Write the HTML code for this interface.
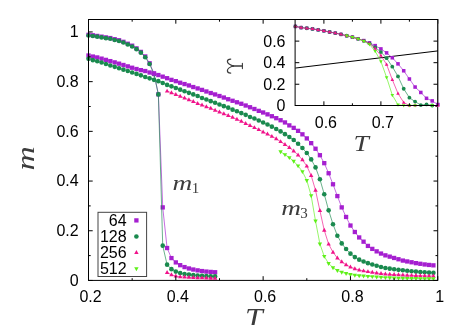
<!DOCTYPE html>
<html><head><meta charset="utf-8"><style>
html,body{margin:0;padding:0;background:#fff;}
#w{position:relative;width:463px;height:325px;overflow:hidden;background:#fff;font-family:"Liberation Sans",sans-serif;color:#000;}
</style></head><body><div id="w">
<svg width="463" height="325" viewBox="0 0 463 325" style="position:absolute;left:0;top:0">
<rect width="463" height="325" fill="#fff"/>
<polyline fill="none" stroke="#a51fd0" stroke-width="0.65" points="88.50,34.81 92.87,35.30 97.23,35.93 101.60,36.67 105.96,37.42 110.33,38.06 114.70,39.21 119.06,40.25 123.43,41.82 127.79,43.75 132.16,45.69 136.53,48.40 140.89,51.90 145.26,56.45 149.62,63.26 153.99,73.45 158.36,94.32 162.72,207.39 167.09,248.02 171.45,258.08 175.82,262.41 180.19,265.19 184.55,267.08 188.92,268.47 193.28,269.52 197.65,270.36 202.02,271.06 206.38,271.58 210.75,271.93 215.11,272.25"/><rect x="86.35" y="32.66" width="4.30" height="4.30" fill="#a51fd0"/><rect x="90.72" y="33.15" width="4.30" height="4.30" fill="#a51fd0"/><rect x="95.08" y="33.78" width="4.30" height="4.30" fill="#a51fd0"/><rect x="99.45" y="34.52" width="4.30" height="4.30" fill="#a51fd0"/><rect x="103.81" y="35.27" width="4.30" height="4.30" fill="#a51fd0"/><rect x="108.18" y="35.91" width="4.30" height="4.30" fill="#a51fd0"/><rect x="112.55" y="37.06" width="4.30" height="4.30" fill="#a51fd0"/><rect x="116.91" y="38.10" width="4.30" height="4.30" fill="#a51fd0"/><rect x="121.28" y="39.67" width="4.30" height="4.30" fill="#a51fd0"/><rect x="125.64" y="41.60" width="4.30" height="4.30" fill="#a51fd0"/><rect x="130.01" y="43.54" width="4.30" height="4.30" fill="#a51fd0"/><rect x="134.38" y="46.25" width="4.30" height="4.30" fill="#a51fd0"/><rect x="138.74" y="49.75" width="4.30" height="4.30" fill="#a51fd0"/><rect x="143.11" y="54.30" width="4.30" height="4.30" fill="#a51fd0"/><rect x="147.47" y="61.11" width="4.30" height="4.30" fill="#a51fd0"/><rect x="151.84" y="71.30" width="4.30" height="4.30" fill="#a51fd0"/><rect x="156.21" y="92.17" width="4.30" height="4.30" fill="#a51fd0"/><rect x="160.57" y="205.24" width="4.30" height="4.30" fill="#a51fd0"/><rect x="164.94" y="245.87" width="4.30" height="4.30" fill="#a51fd0"/><rect x="169.30" y="255.93" width="4.30" height="4.30" fill="#a51fd0"/><rect x="173.67" y="260.26" width="4.30" height="4.30" fill="#a51fd0"/><rect x="178.04" y="263.04" width="4.30" height="4.30" fill="#a51fd0"/><rect x="182.40" y="264.93" width="4.30" height="4.30" fill="#a51fd0"/><rect x="186.77" y="266.32" width="4.30" height="4.30" fill="#a51fd0"/><rect x="191.13" y="267.37" width="4.30" height="4.30" fill="#a51fd0"/><rect x="195.50" y="268.21" width="4.30" height="4.30" fill="#a51fd0"/><rect x="199.87" y="268.91" width="4.30" height="4.30" fill="#a51fd0"/><rect x="204.23" y="269.43" width="4.30" height="4.30" fill="#a51fd0"/><rect x="208.60" y="269.78" width="4.30" height="4.30" fill="#a51fd0"/><rect x="212.96" y="270.10" width="4.30" height="4.30" fill="#a51fd0"/>

<polyline fill="none" stroke="#1a8a4e" stroke-width="0.65" points="88.50,35.55 92.87,36.05 97.23,36.67 101.60,37.42 105.96,38.16 110.33,38.81 114.70,39.95 119.06,41.00 123.43,42.56 127.79,44.50 132.16,46.44 136.53,49.15 140.89,52.65 145.26,57.20 149.62,64.01 153.99,74.19 158.36,94.40 162.72,245.66 167.09,264.67 171.45,269.14 175.82,271.58 180.19,273.00 184.55,273.99 188.92,274.61 193.28,275.11 197.65,275.48 202.02,275.73 206.38,275.98 210.75,276.23 215.11,276.40"/><circle cx="88.50" cy="35.55" r="2.30" fill="#1a8a4e"/><circle cx="92.87" cy="36.05" r="2.30" fill="#1a8a4e"/><circle cx="97.23" cy="36.67" r="2.30" fill="#1a8a4e"/><circle cx="101.60" cy="37.42" r="2.30" fill="#1a8a4e"/><circle cx="105.96" cy="38.16" r="2.30" fill="#1a8a4e"/><circle cx="110.33" cy="38.81" r="2.30" fill="#1a8a4e"/><circle cx="114.70" cy="39.95" r="2.30" fill="#1a8a4e"/><circle cx="119.06" cy="41.00" r="2.30" fill="#1a8a4e"/><circle cx="123.43" cy="42.56" r="2.30" fill="#1a8a4e"/><circle cx="127.79" cy="44.50" r="2.30" fill="#1a8a4e"/><circle cx="132.16" cy="46.44" r="2.30" fill="#1a8a4e"/><circle cx="136.53" cy="49.15" r="2.30" fill="#1a8a4e"/><circle cx="140.89" cy="52.65" r="2.30" fill="#1a8a4e"/><circle cx="145.26" cy="57.20" r="2.30" fill="#1a8a4e"/><circle cx="149.62" cy="64.01" r="2.30" fill="#1a8a4e"/><circle cx="153.99" cy="74.19" r="2.30" fill="#1a8a4e"/><circle cx="158.36" cy="94.40" r="2.30" fill="#1a8a4e"/><circle cx="162.72" cy="245.66" r="2.30" fill="#1a8a4e"/><circle cx="167.09" cy="264.67" r="2.30" fill="#1a8a4e"/><circle cx="171.45" cy="269.14" r="2.30" fill="#1a8a4e"/><circle cx="175.82" cy="271.58" r="2.30" fill="#1a8a4e"/><circle cx="180.19" cy="273.00" r="2.30" fill="#1a8a4e"/><circle cx="184.55" cy="273.99" r="2.30" fill="#1a8a4e"/><circle cx="188.92" cy="274.61" r="2.30" fill="#1a8a4e"/><circle cx="193.28" cy="275.11" r="2.30" fill="#1a8a4e"/><circle cx="197.65" cy="275.48" r="2.30" fill="#1a8a4e"/><circle cx="202.02" cy="275.73" r="2.30" fill="#1a8a4e"/><circle cx="206.38" cy="275.98" r="2.30" fill="#1a8a4e"/><circle cx="210.75" cy="276.23" r="2.30" fill="#1a8a4e"/><circle cx="215.11" cy="276.40" r="2.30" fill="#1a8a4e"/>

<polyline fill="none" stroke="#f0128a" stroke-width="0.65" points="167.09,272.50 171.45,274.86 175.82,276.05 180.19,276.72 184.55,277.10 188.92,277.37 193.28,277.59 197.65,277.77 202.02,277.92 206.38,278.06 210.75,278.21 215.11,278.31"/><path d="M164.89 273.95L169.29 273.95L167.09 270.00Z" fill="#f0128a"/><path d="M169.25 276.31L173.65 276.31L171.45 272.36Z" fill="#f0128a"/><path d="M173.62 277.50L178.02 277.50L175.82 273.55Z" fill="#f0128a"/><path d="M177.99 278.17L182.39 278.17L180.19 274.22Z" fill="#f0128a"/><path d="M182.35 278.55L186.75 278.55L184.55 274.60Z" fill="#f0128a"/><path d="M186.72 278.82L191.12 278.82L188.92 274.87Z" fill="#f0128a"/><path d="M191.08 279.04L195.48 279.04L193.28 275.09Z" fill="#f0128a"/><path d="M195.45 279.22L199.85 279.22L197.65 275.27Z" fill="#f0128a"/><path d="M199.82 279.37L204.22 279.37L202.02 275.42Z" fill="#f0128a"/><path d="M204.18 279.51L208.58 279.51L206.38 275.56Z" fill="#f0128a"/><path d="M208.55 279.66L212.95 279.66L210.75 275.71Z" fill="#f0128a"/><path d="M212.91 279.76L217.31 279.76L215.11 275.81Z" fill="#f0128a"/>

<polyline fill="none" stroke="#a51fd0" stroke-width="0.65" points="88.50,55.51 92.87,56.55 97.23,57.45 101.60,58.64 105.96,59.87 110.33,61.12 114.70,62.39 119.06,63.66 123.43,64.99 127.79,66.37 132.16,67.74 136.53,69.02 140.89,70.14 145.26,71.04 149.62,72.51 153.99,73.65 158.36,75.04 162.72,76.66 167.09,78.20 171.45,79.86 175.82,81.15 180.19,82.74 184.55,84.06 188.92,85.45 193.28,87.04 197.65,88.43 202.02,89.90 206.38,91.47 210.75,93.03 215.11,94.45 219.48,96.01 223.85,97.55 228.21,99.24 232.58,100.78 236.94,102.28 241.31,103.77 245.68,105.51 250.04,107.25 254.41,108.99 258.77,110.85 263.14,112.49 267.51,114.35 271.87,116.24 276.24,118.18 280.60,120.24 284.97,122.45 289.34,125.39 293.70,127.87 298.07,130.85 302.43,134.33 306.80,138.41 311.17,143.15 315.53,148.74 319.90,155.21 324.26,163.16 328.63,173.25 333.00,184.28 337.36,196.08 341.73,207.39 346.09,216.96 350.46,225.53 354.83,231.99 359.19,237.46 363.56,241.68 367.92,245.91 372.29,248.89 376.66,251.36 381.02,253.56 385.39,255.35 389.75,256.64 394.12,257.96 398.49,259.25 402.85,260.57 407.22,261.44 411.58,262.26 415.95,263.15 420.32,263.80 424.68,264.45 429.05,264.94 433.41,265.34"/><rect x="86.35" y="53.36" width="4.30" height="4.30" fill="#a51fd0"/><rect x="90.72" y="54.40" width="4.30" height="4.30" fill="#a51fd0"/><rect x="95.08" y="55.30" width="4.30" height="4.30" fill="#a51fd0"/><rect x="99.45" y="56.49" width="4.30" height="4.30" fill="#a51fd0"/><rect x="103.81" y="57.72" width="4.30" height="4.30" fill="#a51fd0"/><rect x="108.18" y="58.97" width="4.30" height="4.30" fill="#a51fd0"/><rect x="112.55" y="60.24" width="4.30" height="4.30" fill="#a51fd0"/><rect x="116.91" y="61.51" width="4.30" height="4.30" fill="#a51fd0"/><rect x="121.28" y="62.84" width="4.30" height="4.30" fill="#a51fd0"/><rect x="125.64" y="64.22" width="4.30" height="4.30" fill="#a51fd0"/><rect x="130.01" y="65.59" width="4.30" height="4.30" fill="#a51fd0"/><rect x="134.38" y="66.87" width="4.30" height="4.30" fill="#a51fd0"/><rect x="138.74" y="67.99" width="4.30" height="4.30" fill="#a51fd0"/><rect x="143.11" y="68.89" width="4.30" height="4.30" fill="#a51fd0"/><rect x="147.47" y="70.36" width="4.30" height="4.30" fill="#a51fd0"/><rect x="151.84" y="71.50" width="4.30" height="4.30" fill="#a51fd0"/><rect x="156.21" y="72.89" width="4.30" height="4.30" fill="#a51fd0"/><rect x="160.57" y="74.51" width="4.30" height="4.30" fill="#a51fd0"/><rect x="164.94" y="76.05" width="4.30" height="4.30" fill="#a51fd0"/><rect x="169.30" y="77.71" width="4.30" height="4.30" fill="#a51fd0"/><rect x="173.67" y="79.00" width="4.30" height="4.30" fill="#a51fd0"/><rect x="178.04" y="80.59" width="4.30" height="4.30" fill="#a51fd0"/><rect x="182.40" y="81.91" width="4.30" height="4.30" fill="#a51fd0"/><rect x="186.77" y="83.30" width="4.30" height="4.30" fill="#a51fd0"/><rect x="191.13" y="84.89" width="4.30" height="4.30" fill="#a51fd0"/><rect x="195.50" y="86.28" width="4.30" height="4.30" fill="#a51fd0"/><rect x="199.87" y="87.75" width="4.30" height="4.30" fill="#a51fd0"/><rect x="204.23" y="89.32" width="4.30" height="4.30" fill="#a51fd0"/><rect x="208.60" y="90.88" width="4.30" height="4.30" fill="#a51fd0"/><rect x="212.96" y="92.30" width="4.30" height="4.30" fill="#a51fd0"/><rect x="217.33" y="93.86" width="4.30" height="4.30" fill="#a51fd0"/><rect x="221.70" y="95.40" width="4.30" height="4.30" fill="#a51fd0"/><rect x="226.06" y="97.09" width="4.30" height="4.30" fill="#a51fd0"/><rect x="230.43" y="98.63" width="4.30" height="4.30" fill="#a51fd0"/><rect x="234.79" y="100.13" width="4.30" height="4.30" fill="#a51fd0"/><rect x="239.16" y="101.62" width="4.30" height="4.30" fill="#a51fd0"/><rect x="243.53" y="103.36" width="4.30" height="4.30" fill="#a51fd0"/><rect x="247.89" y="105.10" width="4.30" height="4.30" fill="#a51fd0"/><rect x="252.26" y="106.84" width="4.30" height="4.30" fill="#a51fd0"/><rect x="256.62" y="108.70" width="4.30" height="4.30" fill="#a51fd0"/><rect x="260.99" y="110.34" width="4.30" height="4.30" fill="#a51fd0"/><rect x="265.36" y="112.20" width="4.30" height="4.30" fill="#a51fd0"/><rect x="269.72" y="114.09" width="4.30" height="4.30" fill="#a51fd0"/><rect x="274.09" y="116.03" width="4.30" height="4.30" fill="#a51fd0"/><rect x="278.45" y="118.09" width="4.30" height="4.30" fill="#a51fd0"/><rect x="282.82" y="120.30" width="4.30" height="4.30" fill="#a51fd0"/><rect x="287.19" y="123.24" width="4.30" height="4.30" fill="#a51fd0"/><rect x="291.55" y="125.72" width="4.30" height="4.30" fill="#a51fd0"/><rect x="295.92" y="128.70" width="4.30" height="4.30" fill="#a51fd0"/><rect x="300.28" y="132.18" width="4.30" height="4.30" fill="#a51fd0"/><rect x="304.65" y="136.26" width="4.30" height="4.30" fill="#a51fd0"/><rect x="309.02" y="141.00" width="4.30" height="4.30" fill="#a51fd0"/><rect x="313.38" y="146.59" width="4.30" height="4.30" fill="#a51fd0"/><rect x="317.75" y="153.06" width="4.30" height="4.30" fill="#a51fd0"/><rect x="322.11" y="161.01" width="4.30" height="4.30" fill="#a51fd0"/><rect x="326.48" y="171.10" width="4.30" height="4.30" fill="#a51fd0"/><rect x="330.85" y="182.13" width="4.30" height="4.30" fill="#a51fd0"/><rect x="335.21" y="193.93" width="4.30" height="4.30" fill="#a51fd0"/><rect x="339.58" y="205.24" width="4.30" height="4.30" fill="#a51fd0"/><rect x="343.94" y="214.81" width="4.30" height="4.30" fill="#a51fd0"/><rect x="348.31" y="223.38" width="4.30" height="4.30" fill="#a51fd0"/><rect x="352.68" y="229.84" width="4.30" height="4.30" fill="#a51fd0"/><rect x="357.04" y="235.31" width="4.30" height="4.30" fill="#a51fd0"/><rect x="361.41" y="239.53" width="4.30" height="4.30" fill="#a51fd0"/><rect x="365.77" y="243.76" width="4.30" height="4.30" fill="#a51fd0"/><rect x="370.14" y="246.74" width="4.30" height="4.30" fill="#a51fd0"/><rect x="374.51" y="249.21" width="4.30" height="4.30" fill="#a51fd0"/><rect x="378.87" y="251.41" width="4.30" height="4.30" fill="#a51fd0"/><rect x="383.24" y="253.20" width="4.30" height="4.30" fill="#a51fd0"/><rect x="387.60" y="254.49" width="4.30" height="4.30" fill="#a51fd0"/><rect x="391.97" y="255.81" width="4.30" height="4.30" fill="#a51fd0"/><rect x="396.34" y="257.10" width="4.30" height="4.30" fill="#a51fd0"/><rect x="400.70" y="258.42" width="4.30" height="4.30" fill="#a51fd0"/><rect x="405.07" y="259.29" width="4.30" height="4.30" fill="#a51fd0"/><rect x="409.43" y="260.11" width="4.30" height="4.30" fill="#a51fd0"/><rect x="413.80" y="261.00" width="4.30" height="4.30" fill="#a51fd0"/><rect x="418.17" y="261.65" width="4.30" height="4.30" fill="#a51fd0"/><rect x="422.53" y="262.30" width="4.30" height="4.30" fill="#a51fd0"/><rect x="426.90" y="262.79" width="4.30" height="4.30" fill="#a51fd0"/><rect x="431.26" y="263.19" width="4.30" height="4.30" fill="#a51fd0"/>

<polyline fill="none" stroke="#1a8a4e" stroke-width="0.65" points="88.50,58.86 92.87,60.15 97.23,61.20 101.60,62.57 105.96,64.06 110.33,65.47 114.70,66.86 119.06,68.24 123.43,69.63 127.79,71.02 132.16,72.44 136.53,73.88 140.89,75.36 145.26,76.93 149.62,78.34 153.99,79.86 158.36,81.15 162.72,83.02 167.09,84.88 171.45,86.37 175.82,88.06 180.19,89.65 184.55,91.27 188.92,92.83 193.28,94.40 197.65,96.06 202.02,97.95 206.38,99.49 210.75,101.16 215.11,102.77 219.48,104.46 223.85,106.15 228.21,107.64 232.58,109.66 236.94,111.22 241.31,113.11 245.68,114.85 250.04,116.94 254.41,118.50 258.77,120.54 263.14,122.45 267.51,124.44 271.87,126.63 276.24,128.94 280.60,131.42 284.97,134.16 289.34,137.07 293.70,140.05 298.07,143.77 302.43,148.07 306.80,152.97 311.17,159.38 315.53,167.38 319.90,179.19 324.26,194.22 328.63,210.37 333.00,224.21 337.36,235.72 341.73,243.42 346.09,249.01 350.46,253.66 354.83,257.09 359.19,259.65 363.56,261.44 367.92,263.15 372.29,264.45 376.66,265.73 381.02,266.97 385.39,267.95 389.75,268.67 394.12,269.29 398.49,269.83 402.85,270.31 407.22,270.76 411.58,271.18 415.95,271.58 420.32,271.95 424.68,272.29 429.05,272.59 433.41,272.85"/><circle cx="88.50" cy="58.86" r="2.30" fill="#1a8a4e"/><circle cx="92.87" cy="60.15" r="2.30" fill="#1a8a4e"/><circle cx="97.23" cy="61.20" r="2.30" fill="#1a8a4e"/><circle cx="101.60" cy="62.57" r="2.30" fill="#1a8a4e"/><circle cx="105.96" cy="64.06" r="2.30" fill="#1a8a4e"/><circle cx="110.33" cy="65.47" r="2.30" fill="#1a8a4e"/><circle cx="114.70" cy="66.86" r="2.30" fill="#1a8a4e"/><circle cx="119.06" cy="68.24" r="2.30" fill="#1a8a4e"/><circle cx="123.43" cy="69.63" r="2.30" fill="#1a8a4e"/><circle cx="127.79" cy="71.02" r="2.30" fill="#1a8a4e"/><circle cx="132.16" cy="72.44" r="2.30" fill="#1a8a4e"/><circle cx="136.53" cy="73.88" r="2.30" fill="#1a8a4e"/><circle cx="140.89" cy="75.36" r="2.30" fill="#1a8a4e"/><circle cx="145.26" cy="76.93" r="2.30" fill="#1a8a4e"/><circle cx="149.62" cy="78.34" r="2.30" fill="#1a8a4e"/><circle cx="153.99" cy="79.86" r="2.30" fill="#1a8a4e"/><circle cx="158.36" cy="81.15" r="2.30" fill="#1a8a4e"/><circle cx="162.72" cy="83.02" r="2.30" fill="#1a8a4e"/><circle cx="167.09" cy="84.88" r="2.30" fill="#1a8a4e"/><circle cx="171.45" cy="86.37" r="2.30" fill="#1a8a4e"/><circle cx="175.82" cy="88.06" r="2.30" fill="#1a8a4e"/><circle cx="180.19" cy="89.65" r="2.30" fill="#1a8a4e"/><circle cx="184.55" cy="91.27" r="2.30" fill="#1a8a4e"/><circle cx="188.92" cy="92.83" r="2.30" fill="#1a8a4e"/><circle cx="193.28" cy="94.40" r="2.30" fill="#1a8a4e"/><circle cx="197.65" cy="96.06" r="2.30" fill="#1a8a4e"/><circle cx="202.02" cy="97.95" r="2.30" fill="#1a8a4e"/><circle cx="206.38" cy="99.49" r="2.30" fill="#1a8a4e"/><circle cx="210.75" cy="101.16" r="2.30" fill="#1a8a4e"/><circle cx="215.11" cy="102.77" r="2.30" fill="#1a8a4e"/><circle cx="219.48" cy="104.46" r="2.30" fill="#1a8a4e"/><circle cx="223.85" cy="106.15" r="2.30" fill="#1a8a4e"/><circle cx="228.21" cy="107.64" r="2.30" fill="#1a8a4e"/><circle cx="232.58" cy="109.66" r="2.30" fill="#1a8a4e"/><circle cx="236.94" cy="111.22" r="2.30" fill="#1a8a4e"/><circle cx="241.31" cy="113.11" r="2.30" fill="#1a8a4e"/><circle cx="245.68" cy="114.85" r="2.30" fill="#1a8a4e"/><circle cx="250.04" cy="116.94" r="2.30" fill="#1a8a4e"/><circle cx="254.41" cy="118.50" r="2.30" fill="#1a8a4e"/><circle cx="258.77" cy="120.54" r="2.30" fill="#1a8a4e"/><circle cx="263.14" cy="122.45" r="2.30" fill="#1a8a4e"/><circle cx="267.51" cy="124.44" r="2.30" fill="#1a8a4e"/><circle cx="271.87" cy="126.63" r="2.30" fill="#1a8a4e"/><circle cx="276.24" cy="128.94" r="2.30" fill="#1a8a4e"/><circle cx="280.60" cy="131.42" r="2.30" fill="#1a8a4e"/><circle cx="284.97" cy="134.16" r="2.30" fill="#1a8a4e"/><circle cx="289.34" cy="137.07" r="2.30" fill="#1a8a4e"/><circle cx="293.70" cy="140.05" r="2.30" fill="#1a8a4e"/><circle cx="298.07" cy="143.77" r="2.30" fill="#1a8a4e"/><circle cx="302.43" cy="148.07" r="2.30" fill="#1a8a4e"/><circle cx="306.80" cy="152.97" r="2.30" fill="#1a8a4e"/><circle cx="311.17" cy="159.38" r="2.30" fill="#1a8a4e"/><circle cx="315.53" cy="167.38" r="2.30" fill="#1a8a4e"/><circle cx="319.90" cy="179.19" r="2.30" fill="#1a8a4e"/><circle cx="324.26" cy="194.22" r="2.30" fill="#1a8a4e"/><circle cx="328.63" cy="210.37" r="2.30" fill="#1a8a4e"/><circle cx="333.00" cy="224.21" r="2.30" fill="#1a8a4e"/><circle cx="337.36" cy="235.72" r="2.30" fill="#1a8a4e"/><circle cx="341.73" cy="243.42" r="2.30" fill="#1a8a4e"/><circle cx="346.09" cy="249.01" r="2.30" fill="#1a8a4e"/><circle cx="350.46" cy="253.66" r="2.30" fill="#1a8a4e"/><circle cx="354.83" cy="257.09" r="2.30" fill="#1a8a4e"/><circle cx="359.19" cy="259.65" r="2.30" fill="#1a8a4e"/><circle cx="363.56" cy="261.44" r="2.30" fill="#1a8a4e"/><circle cx="367.92" cy="263.15" r="2.30" fill="#1a8a4e"/><circle cx="372.29" cy="264.45" r="2.30" fill="#1a8a4e"/><circle cx="376.66" cy="265.73" r="2.30" fill="#1a8a4e"/><circle cx="381.02" cy="266.97" r="2.30" fill="#1a8a4e"/><circle cx="385.39" cy="267.95" r="2.30" fill="#1a8a4e"/><circle cx="389.75" cy="268.67" r="2.30" fill="#1a8a4e"/><circle cx="394.12" cy="269.29" r="2.30" fill="#1a8a4e"/><circle cx="398.49" cy="269.83" r="2.30" fill="#1a8a4e"/><circle cx="402.85" cy="270.31" r="2.30" fill="#1a8a4e"/><circle cx="407.22" cy="270.76" r="2.30" fill="#1a8a4e"/><circle cx="411.58" cy="271.18" r="2.30" fill="#1a8a4e"/><circle cx="415.95" cy="271.58" r="2.30" fill="#1a8a4e"/><circle cx="420.32" cy="271.95" r="2.30" fill="#1a8a4e"/><circle cx="424.68" cy="272.29" r="2.30" fill="#1a8a4e"/><circle cx="429.05" cy="272.59" r="2.30" fill="#1a8a4e"/><circle cx="433.41" cy="272.85" r="2.30" fill="#1a8a4e"/>

<polyline fill="none" stroke="#f0128a" stroke-width="0.65" points="167.09,91.14 171.45,92.83 175.82,94.57 180.19,96.31 184.55,98.05 188.92,99.74 193.28,101.53 197.65,103.52 202.02,105.06 206.38,106.75 210.75,108.34 215.11,110.23 219.48,111.97 223.85,113.76 228.21,115.45 232.58,117.36 236.94,119.35 241.31,121.26 245.68,123.52 250.04,125.46 254.41,127.65 258.77,129.66 263.14,131.95 267.51,134.08 271.87,136.39 276.24,138.81 280.60,141.64 284.97,144.52 289.34,147.50 293.70,150.98 298.07,155.08 302.43,159.80 306.80,166.14 311.17,175.46 315.53,190.29 319.90,210.62 324.26,230.25 328.63,244.17 333.00,252.25 337.36,257.96 341.73,261.86 346.09,264.84 350.46,267.03 354.83,268.70 359.19,269.94 363.56,270.91 367.92,271.65 372.29,272.35 376.66,272.99 381.02,273.59 385.39,274.04 389.75,274.36 394.12,274.62 398.49,274.85 402.85,275.05 407.22,275.23 411.58,275.40 415.95,275.56 420.32,275.71 424.68,275.84 429.05,275.96 433.41,276.05"/><path d="M164.89 92.59L169.29 92.59L167.09 88.64Z" fill="#f0128a"/><path d="M169.25 94.28L173.65 94.28L171.45 90.33Z" fill="#f0128a"/><path d="M173.62 96.02L178.02 96.02L175.82 92.07Z" fill="#f0128a"/><path d="M177.99 97.76L182.39 97.76L180.19 93.81Z" fill="#f0128a"/><path d="M182.35 99.50L186.75 99.50L184.55 95.55Z" fill="#f0128a"/><path d="M186.72 101.19L191.12 101.19L188.92 97.24Z" fill="#f0128a"/><path d="M191.08 102.98L195.48 102.98L193.28 99.03Z" fill="#f0128a"/><path d="M195.45 104.97L199.85 104.97L197.65 101.02Z" fill="#f0128a"/><path d="M199.82 106.51L204.22 106.51L202.02 102.56Z" fill="#f0128a"/><path d="M204.18 108.20L208.58 108.20L206.38 104.25Z" fill="#f0128a"/><path d="M208.55 109.79L212.95 109.79L210.75 105.84Z" fill="#f0128a"/><path d="M212.91 111.68L217.31 111.68L215.11 107.73Z" fill="#f0128a"/><path d="M217.28 113.42L221.68 113.42L219.48 109.47Z" fill="#f0128a"/><path d="M221.65 115.21L226.05 115.21L223.85 111.26Z" fill="#f0128a"/><path d="M226.01 116.90L230.41 116.90L228.21 112.95Z" fill="#f0128a"/><path d="M230.38 118.81L234.78 118.81L232.58 114.86Z" fill="#f0128a"/><path d="M234.74 120.80L239.14 120.80L236.94 116.85Z" fill="#f0128a"/><path d="M239.11 122.71L243.51 122.71L241.31 118.76Z" fill="#f0128a"/><path d="M243.48 124.97L247.88 124.97L245.68 121.02Z" fill="#f0128a"/><path d="M247.84 126.91L252.24 126.91L250.04 122.96Z" fill="#f0128a"/><path d="M252.21 129.10L256.61 129.10L254.41 125.15Z" fill="#f0128a"/><path d="M256.57 131.11L260.97 131.11L258.77 127.16Z" fill="#f0128a"/><path d="M260.94 133.40L265.34 133.40L263.14 129.45Z" fill="#f0128a"/><path d="M265.31 135.53L269.71 135.53L267.51 131.58Z" fill="#f0128a"/><path d="M269.67 137.84L274.07 137.84L271.87 133.89Z" fill="#f0128a"/><path d="M274.04 140.25L278.44 140.25L276.24 136.31Z" fill="#f0128a"/><path d="M278.40 143.09L282.80 143.09L280.60 139.14Z" fill="#f0128a"/><path d="M282.77 145.97L287.17 145.97L284.97 142.02Z" fill="#f0128a"/><path d="M287.14 148.95L291.54 148.95L289.34 145.00Z" fill="#f0128a"/><path d="M291.50 152.43L295.90 152.43L293.70 148.48Z" fill="#f0128a"/><path d="M295.87 156.53L300.27 156.53L298.07 152.58Z" fill="#f0128a"/><path d="M300.23 161.25L304.63 161.25L302.43 157.30Z" fill="#f0128a"/><path d="M304.60 167.59L309.00 167.59L306.80 163.64Z" fill="#f0128a"/><path d="M308.97 176.91L313.37 176.91L311.17 172.96Z" fill="#f0128a"/><path d="M313.33 191.74L317.73 191.74L315.53 187.79Z" fill="#f0128a"/><path d="M317.70 212.07L322.10 212.07L319.90 208.12Z" fill="#f0128a"/><path d="M322.06 231.70L326.46 231.70L324.26 227.75Z" fill="#f0128a"/><path d="M326.43 245.62L330.83 245.62L328.63 241.67Z" fill="#f0128a"/><path d="M330.80 253.70L335.20 253.70L333.00 249.75Z" fill="#f0128a"/><path d="M335.16 259.41L339.56 259.41L337.36 255.46Z" fill="#f0128a"/><path d="M339.53 263.31L343.93 263.31L341.73 259.36Z" fill="#f0128a"/><path d="M343.89 266.29L348.29 266.29L346.09 262.34Z" fill="#f0128a"/><path d="M348.26 268.48L352.66 268.48L350.46 264.53Z" fill="#f0128a"/><path d="M352.63 270.15L357.03 270.15L354.83 266.20Z" fill="#f0128a"/><path d="M356.99 271.39L361.39 271.39L359.19 267.44Z" fill="#f0128a"/><path d="M361.36 272.36L365.76 272.36L363.56 268.41Z" fill="#f0128a"/><path d="M365.72 273.10L370.12 273.10L367.92 269.15Z" fill="#f0128a"/><path d="M370.09 273.80L374.49 273.80L372.29 269.85Z" fill="#f0128a"/><path d="M374.46 274.44L378.86 274.44L376.66 270.49Z" fill="#f0128a"/><path d="M378.82 275.04L383.22 275.04L381.02 271.09Z" fill="#f0128a"/><path d="M383.19 275.49L387.59 275.49L385.39 271.54Z" fill="#f0128a"/><path d="M387.55 275.81L391.95 275.81L389.75 271.86Z" fill="#f0128a"/><path d="M391.92 276.07L396.32 276.07L394.12 272.12Z" fill="#f0128a"/><path d="M396.29 276.30L400.69 276.30L398.49 272.35Z" fill="#f0128a"/><path d="M400.65 276.50L405.05 276.50L402.85 272.55Z" fill="#f0128a"/><path d="M405.02 276.68L409.42 276.68L407.22 272.73Z" fill="#f0128a"/><path d="M409.38 276.85L413.78 276.85L411.58 272.90Z" fill="#f0128a"/><path d="M413.75 277.01L418.15 277.01L415.95 273.06Z" fill="#f0128a"/><path d="M418.12 277.16L422.52 277.16L420.32 273.21Z" fill="#f0128a"/><path d="M422.48 277.29L426.88 277.29L424.68 273.34Z" fill="#f0128a"/><path d="M426.85 277.41L431.25 277.41L429.05 273.46Z" fill="#f0128a"/><path d="M431.21 277.50L435.61 277.50L433.41 273.55Z" fill="#f0128a"/>

<polyline fill="none" stroke="#5ef018" stroke-width="0.65" points="280.60,151.75 284.97,154.61 289.34,157.59 293.70,161.29 298.07,165.84 302.43,171.61 306.80,180.43 311.17,195.71 315.53,221.06 319.90,243.92 324.26,256.35 328.63,263.55 333.00,267.65 337.36,270.56 341.73,272.20 346.09,273.49 350.46,274.56 354.83,275.16 359.19,275.70 363.56,276.05 367.92,276.35 372.29,276.60 376.66,276.93 381.02,277.30 385.39,277.59 389.75,277.79 394.12,277.96 398.49,278.10 402.85,278.23 407.22,278.34 411.58,278.44 415.95,278.53 420.32,278.62 424.68,278.70 429.05,278.76 433.41,278.81"/><path d="M278.40 150.30L282.80 150.30L280.60 154.25Z" fill="#5ef018"/><path d="M282.77 153.16L287.17 153.16L284.97 157.11Z" fill="#5ef018"/><path d="M287.14 156.14L291.54 156.14L289.34 160.09Z" fill="#5ef018"/><path d="M291.50 159.84L295.90 159.84L293.70 163.79Z" fill="#5ef018"/><path d="M295.87 164.39L300.27 164.39L298.07 168.34Z" fill="#5ef018"/><path d="M300.23 170.16L304.63 170.16L302.43 174.11Z" fill="#5ef018"/><path d="M304.60 178.98L309.00 178.98L306.80 182.93Z" fill="#5ef018"/><path d="M308.97 194.26L313.37 194.26L311.17 198.21Z" fill="#5ef018"/><path d="M313.33 219.61L317.73 219.61L315.53 223.56Z" fill="#5ef018"/><path d="M317.70 242.47L322.10 242.47L319.90 246.42Z" fill="#5ef018"/><path d="M322.06 254.90L326.46 254.90L324.26 258.85Z" fill="#5ef018"/><path d="M326.43 262.10L330.83 262.10L328.63 266.05Z" fill="#5ef018"/><path d="M330.80 266.20L335.20 266.20L333.00 270.15Z" fill="#5ef018"/><path d="M335.16 269.11L339.56 269.11L337.36 273.06Z" fill="#5ef018"/><path d="M339.53 270.75L343.93 270.75L341.73 274.70Z" fill="#5ef018"/><path d="M343.89 272.04L348.29 272.04L346.09 275.99Z" fill="#5ef018"/><path d="M348.26 273.11L352.66 273.11L350.46 277.06Z" fill="#5ef018"/><path d="M352.63 273.71L357.03 273.71L354.83 277.66Z" fill="#5ef018"/><path d="M356.99 274.25L361.39 274.25L359.19 278.20Z" fill="#5ef018"/><path d="M361.36 274.60L365.76 274.60L363.56 278.55Z" fill="#5ef018"/><path d="M365.72 274.90L370.12 274.90L367.92 278.85Z" fill="#5ef018"/><path d="M370.09 275.15L374.49 275.15L372.29 279.10Z" fill="#5ef018"/><path d="M374.46 275.48L378.86 275.48L376.66 279.43Z" fill="#5ef018"/><path d="M378.82 275.85L383.22 275.85L381.02 279.80Z" fill="#5ef018"/><path d="M383.19 276.14L387.59 276.14L385.39 280.09Z" fill="#5ef018"/><path d="M387.55 276.34L391.95 276.34L389.75 280.29Z" fill="#5ef018"/><path d="M391.92 276.51L396.32 276.51L394.12 280.46Z" fill="#5ef018"/><path d="M396.29 276.65L400.69 276.65L398.49 280.60Z" fill="#5ef018"/><path d="M400.65 276.78L405.05 276.78L402.85 280.73Z" fill="#5ef018"/><path d="M405.02 276.89L409.42 276.89L407.22 280.84Z" fill="#5ef018"/><path d="M409.38 276.99L413.78 276.99L411.58 280.94Z" fill="#5ef018"/><path d="M413.75 277.08L418.15 277.08L415.95 281.03Z" fill="#5ef018"/><path d="M418.12 277.17L422.52 277.17L420.32 281.12Z" fill="#5ef018"/><path d="M422.48 277.25L426.88 277.25L424.68 281.20Z" fill="#5ef018"/><path d="M426.85 277.31L431.25 277.31L429.05 281.26Z" fill="#5ef018"/><path d="M431.21 277.36L435.61 277.36L433.41 281.31Z" fill="#5ef018"/>

<rect x="88.5" y="19.5" width="349.2" height="260.9" fill="none" stroke="#000" stroke-width="1"/><path d="M88.5 280.45h4.2M437.7 280.45h-4.2" stroke="#000" stroke-width="1"/><path d="M88.5 255.60h2.2M437.7 255.60h-2.2" stroke="#000" stroke-width="1"/><path d="M88.5 230.75h4.2M437.7 230.75h-4.2" stroke="#000" stroke-width="1"/><path d="M88.5 205.90h2.2M437.7 205.90h-2.2" stroke="#000" stroke-width="1"/><path d="M88.5 181.05h4.2M437.7 181.05h-4.2" stroke="#000" stroke-width="1"/><path d="M88.5 156.20h2.2M437.7 156.20h-2.2" stroke="#000" stroke-width="1"/><path d="M88.5 131.35h4.2M437.7 131.35h-4.2" stroke="#000" stroke-width="1"/><path d="M88.5 106.50h2.2M437.7 106.50h-2.2" stroke="#000" stroke-width="1"/><path d="M88.5 81.65h4.2M437.7 81.65h-4.2" stroke="#000" stroke-width="1"/><path d="M88.5 56.80h2.2M437.7 56.80h-2.2" stroke="#000" stroke-width="1"/><path d="M88.5 31.95h4.2M437.7 31.95h-4.2" stroke="#000" stroke-width="1"/><path d="M88.50 280.4v-4.2M88.50 19.5v4.2" stroke="#000" stroke-width="1"/><path d="M132.16 280.4v-2.2M132.16 19.5v2.2" stroke="#000" stroke-width="1"/><path d="M175.82 280.4v-4.2M175.82 19.5v4.2" stroke="#000" stroke-width="1"/><path d="M219.48 280.4v-2.2M219.48 19.5v2.2" stroke="#000" stroke-width="1"/><path d="M263.14 280.4v-4.2M263.14 19.5v4.2" stroke="#000" stroke-width="1"/><path d="M306.80 280.4v-2.2M306.80 19.5v2.2" stroke="#000" stroke-width="1"/><path d="M350.46 280.4v-4.2M350.46 19.5v4.2" stroke="#000" stroke-width="1"/><path d="M394.12 280.4v-2.2M394.12 19.5v2.2" stroke="#000" stroke-width="1"/><path d="M437.78 280.4v-4.2M437.78 19.5v4.2" stroke="#000" stroke-width="1"/>
<rect x="98" y="212.3" width="48.6" height="64.2" fill="#fff" stroke="#444" stroke-width="1"/>
<rect x="134.25" y="218.25" width="4.30" height="4.30" fill="#a51fd0"/>
<circle cx="136.40" cy="236.50" r="2.30" fill="#1a8a4e"/>
<path d="M134.20 254.05L138.60 254.05L136.40 250.10Z" fill="#f0128a"/>
<path d="M134.20 267.25L138.60 267.25L136.40 271.20Z" fill="#5ef018"/>
<rect x="295.1" y="19.5" width="142.59999999999997" height="86.0" fill="#fff"/>
<clipPath id="ic"><rect x="295.1" y="19.5" width="142.59999999999997" height="86.0"/></clipPath>
<path d="M295.40 68.05L437.90 50.90" stroke="#000" stroke-width="1"/>
<polyline fill="none" stroke="#a51fd0" stroke-width="0.65" clip-path="url(#ic)" points="295.40,26.42 301.10,27.60 306.80,28.24 312.50,28.89 318.20,29.85 323.90,30.82 329.60,32.00 335.30,33.07 341.00,34.36 346.70,35.75 352.40,37.10 358.10,38.80 363.80,40.58 369.50,42.84 375.20,45.63 380.90,48.90 386.60,52.87 392.30,57.75 398.00,63.87 403.70,70.78 409.40,79.00 415.10,87.04 420.80,92.46 426.50,98.31 432.20,100.89 437.90,104.53"/><rect x="293.64" y="24.66" width="3.53" height="3.53" fill="#a51fd0"/><rect x="299.34" y="25.84" width="3.53" height="3.53" fill="#a51fd0"/><rect x="305.04" y="26.48" width="3.53" height="3.53" fill="#a51fd0"/><rect x="310.74" y="27.12" width="3.53" height="3.53" fill="#a51fd0"/><rect x="316.44" y="28.09" width="3.53" height="3.53" fill="#a51fd0"/><rect x="322.14" y="29.06" width="3.53" height="3.53" fill="#a51fd0"/><rect x="327.84" y="30.24" width="3.53" height="3.53" fill="#a51fd0"/><rect x="333.54" y="31.31" width="3.53" height="3.53" fill="#a51fd0"/><rect x="339.24" y="32.60" width="3.53" height="3.53" fill="#a51fd0"/><rect x="344.94" y="33.99" width="3.53" height="3.53" fill="#a51fd0"/><rect x="350.64" y="35.33" width="3.53" height="3.53" fill="#a51fd0"/><rect x="356.34" y="37.04" width="3.53" height="3.53" fill="#a51fd0"/><rect x="362.04" y="38.82" width="3.53" height="3.53" fill="#a51fd0"/><rect x="367.74" y="41.07" width="3.53" height="3.53" fill="#a51fd0"/><rect x="373.44" y="43.86" width="3.53" height="3.53" fill="#a51fd0"/><rect x="379.14" y="47.14" width="3.53" height="3.53" fill="#a51fd0"/><rect x="384.84" y="51.11" width="3.53" height="3.53" fill="#a51fd0"/><rect x="390.54" y="55.99" width="3.53" height="3.53" fill="#a51fd0"/><rect x="396.24" y="62.10" width="3.53" height="3.53" fill="#a51fd0"/><rect x="401.94" y="69.01" width="3.53" height="3.53" fill="#a51fd0"/><rect x="407.64" y="77.23" width="3.53" height="3.53" fill="#a51fd0"/><rect x="413.34" y="85.28" width="3.53" height="3.53" fill="#a51fd0"/><rect x="419.04" y="90.70" width="3.53" height="3.53" fill="#a51fd0"/><rect x="424.74" y="96.55" width="3.53" height="3.53" fill="#a51fd0"/><rect x="430.44" y="99.12" width="3.53" height="3.53" fill="#a51fd0"/><rect x="436.14" y="102.77" width="3.53" height="3.53" fill="#a51fd0"/>

<polyline fill="none" stroke="#1a8a4e" stroke-width="0.65" clip-path="url(#ic)" points="295.40,26.42 301.10,27.60 306.80,28.24 312.50,28.89 318.20,29.85 323.90,30.82 329.60,32.00 335.30,33.07 341.00,34.36 346.70,35.75 352.40,37.10 358.10,38.80 363.80,40.80 369.50,43.27 375.20,47.34 380.90,52.06 386.60,58.18 392.30,66.66 398.00,76.42 403.70,88.76 409.40,97.70 415.10,101.61 420.80,105.07 426.50,104.43 432.20,105.50 437.90,108.72"/><circle cx="295.40" cy="26.42" r="1.89" fill="#1a8a4e"/><circle cx="301.10" cy="27.60" r="1.89" fill="#1a8a4e"/><circle cx="306.80" cy="28.24" r="1.89" fill="#1a8a4e"/><circle cx="312.50" cy="28.89" r="1.89" fill="#1a8a4e"/><circle cx="318.20" cy="29.85" r="1.89" fill="#1a8a4e"/><circle cx="323.90" cy="30.82" r="1.89" fill="#1a8a4e"/><circle cx="329.60" cy="32.00" r="1.89" fill="#1a8a4e"/><circle cx="335.30" cy="33.07" r="1.89" fill="#1a8a4e"/><circle cx="341.00" cy="34.36" r="1.89" fill="#1a8a4e"/><circle cx="346.70" cy="35.75" r="1.89" fill="#1a8a4e"/><circle cx="352.40" cy="37.10" r="1.89" fill="#1a8a4e"/><circle cx="358.10" cy="38.80" r="1.89" fill="#1a8a4e"/><circle cx="363.80" cy="40.80" r="1.89" fill="#1a8a4e"/><circle cx="369.50" cy="43.27" r="1.89" fill="#1a8a4e"/><circle cx="375.20" cy="47.34" r="1.89" fill="#1a8a4e"/><circle cx="380.90" cy="52.06" r="1.89" fill="#1a8a4e"/><circle cx="386.60" cy="58.18" r="1.89" fill="#1a8a4e"/><circle cx="392.30" cy="66.66" r="1.89" fill="#1a8a4e"/><circle cx="398.00" cy="76.42" r="1.89" fill="#1a8a4e"/><circle cx="403.70" cy="88.76" r="1.89" fill="#1a8a4e"/><circle cx="409.40" cy="97.70" r="1.89" fill="#1a8a4e"/><circle cx="415.10" cy="101.61" r="1.89" fill="#1a8a4e"/><circle cx="420.80" cy="105.07" r="1.89" fill="#1a8a4e"/><circle cx="426.50" cy="104.43" r="1.89" fill="#1a8a4e"/><circle cx="432.20" cy="105.50" r="1.89" fill="#1a8a4e"/>

<polyline fill="none" stroke="#f0128a" stroke-width="0.65" clip-path="url(#ic)" points="295.40,26.42 301.10,27.60 306.80,28.24 312.50,28.89 318.20,29.85 323.90,30.82 329.60,32.00 335.30,33.07 341.00,34.36 346.70,35.75 352.40,37.10 358.10,38.80 363.80,40.91 369.50,43.48 375.20,48.63 380.90,55.44 386.60,64.51 392.30,79.69 398.00,93.48 403.70,102.50 409.40,105.50 415.10,105.29 420.80,108.72 426.50,108.72 432.20,108.72 437.90,105.29"/><path d="M293.60 27.61L297.20 27.61L295.40 24.37Z" fill="#f0128a"/><path d="M299.30 28.79L302.90 28.79L301.10 25.55Z" fill="#f0128a"/><path d="M305.00 29.43L308.60 29.43L306.80 26.19Z" fill="#f0128a"/><path d="M310.70 30.08L314.30 30.08L312.50 26.84Z" fill="#f0128a"/><path d="M316.40 31.04L320.00 31.04L318.20 27.80Z" fill="#f0128a"/><path d="M322.10 32.01L325.70 32.01L323.90 28.77Z" fill="#f0128a"/><path d="M327.80 33.19L331.40 33.19L329.60 29.95Z" fill="#f0128a"/><path d="M333.50 34.26L337.10 34.26L335.30 31.02Z" fill="#f0128a"/><path d="M339.20 35.55L342.80 35.55L341.00 32.31Z" fill="#f0128a"/><path d="M344.90 36.94L348.50 36.94L346.70 33.70Z" fill="#f0128a"/><path d="M350.60 38.29L354.20 38.29L352.40 35.05Z" fill="#f0128a"/><path d="M356.30 39.99L359.90 39.99L358.10 36.75Z" fill="#f0128a"/><path d="M362.00 42.09L365.60 42.09L363.80 38.86Z" fill="#f0128a"/><path d="M367.70 44.67L371.30 44.67L369.50 41.43Z" fill="#f0128a"/><path d="M373.40 49.82L377.00 49.82L375.20 46.58Z" fill="#f0128a"/><path d="M379.10 56.63L382.70 56.63L380.90 53.39Z" fill="#f0128a"/><path d="M384.80 65.70L388.40 65.70L386.60 62.46Z" fill="#f0128a"/><path d="M390.50 80.88L394.10 80.88L392.30 77.64Z" fill="#f0128a"/><path d="M396.20 94.67L399.80 94.67L398.00 91.43Z" fill="#f0128a"/><path d="M401.90 103.68L405.50 103.68L403.70 100.45Z" fill="#f0128a"/><path d="M407.60 106.69L411.20 106.69L409.40 103.45Z" fill="#f0128a"/><path d="M413.30 106.47L416.90 106.47L415.10 103.24Z" fill="#f0128a"/><path d="M436.10 106.47L439.70 106.47L437.90 103.24Z" fill="#f0128a"/>

<polyline fill="none" stroke="#5ef018" stroke-width="0.65" clip-path="url(#ic)" points="346.70,35.75 352.40,37.10 358.10,38.97 363.80,41.12 369.50,44.49 375.20,51.21 380.90,61.40 386.60,77.39 392.30,95.09 398.00,104.80 403.70,105.50 409.40,105.50 415.10,105.50 420.80,108.72 426.50,108.72 432.20,105.50 437.90,108.72"/><path d="M344.90 34.57L348.50 34.57L346.70 37.80Z" fill="#5ef018"/><path d="M350.60 35.91L354.20 35.91L352.40 39.15Z" fill="#5ef018"/><path d="M356.30 37.79L359.90 37.79L358.10 41.02Z" fill="#5ef018"/><path d="M362.00 39.93L365.60 39.93L363.80 43.17Z" fill="#5ef018"/><path d="M367.70 43.30L371.30 43.30L369.50 46.54Z" fill="#5ef018"/><path d="M373.40 50.02L377.00 50.02L375.20 53.26Z" fill="#5ef018"/><path d="M379.10 60.21L382.70 60.21L380.90 63.45Z" fill="#5ef018"/><path d="M384.80 76.20L388.40 76.20L386.60 79.44Z" fill="#5ef018"/><path d="M390.50 93.90L394.10 93.90L392.30 97.14Z" fill="#5ef018"/><path d="M396.20 103.61L399.80 103.61L398.00 106.85Z" fill="#5ef018"/><path d="M401.90 104.31L405.50 104.31L403.70 107.55Z" fill="#5ef018"/><path d="M407.60 104.31L411.20 104.31L409.40 107.55Z" fill="#5ef018"/><path d="M413.30 104.31L416.90 104.31L415.10 107.55Z" fill="#5ef018"/><path d="M430.40 104.31L434.00 104.31L432.20 107.55Z" fill="#5ef018"/>

<rect x="295.1" y="19.5" width="142.59999999999997" height="86.0" fill="none" stroke="#000" stroke-width="1"/>
<path d="M295.1 84.24h4.2M437.7 84.24h-4.2" stroke="#000" stroke-width="1"/><path d="M295.1 62.68h4.2M437.7 62.68h-4.2" stroke="#000" stroke-width="1"/><path d="M295.1 41.12h4.2M437.7 41.12h-4.2" stroke="#000" stroke-width="1"/><path d="M323.90 105.5v-4.2M323.90 19.5v4.2" stroke="#000" stroke-width="1"/><path d="M352.40 105.5v-2.2M352.40 19.5v2.2" stroke="#000" stroke-width="1"/><path d="M380.90 105.5v-4.2M380.90 19.5v4.2" stroke="#000" stroke-width="1"/><path d="M409.40 105.5v-2.2M409.40 19.5v2.2" stroke="#000" stroke-width="1"/>
</svg>
<svg width="463" height="325" viewBox="0 0 463 325" style="position:absolute;left:0;top:0;will-change:transform" font-family="Liberation Sans, sans-serif" fill="#000"><text transform="translate(78.70,285.85) scale(1,1.0)" text-anchor="end" font-size="16" >0</text><text transform="translate(78.70,236.15) scale(1,1.0)" text-anchor="end" font-size="16" >0.2</text><text transform="translate(78.70,186.45) scale(1,1.0)" text-anchor="end" font-size="16" >0.4</text><text transform="translate(78.70,136.75) scale(1,1.0)" text-anchor="end" font-size="16" >0.6</text><text transform="translate(78.70,87.05) scale(1,1.0)" text-anchor="end" font-size="16" >0.8</text><text transform="translate(78.70,37.35) scale(1,1.0)" text-anchor="end" font-size="16" >1</text><text transform="translate(90.50,302.40) scale(1,1.0)" text-anchor="middle" font-size="16" >0.2</text><text transform="translate(177.82,302.40) scale(1,1.0)" text-anchor="middle" font-size="16" >0.4</text><text transform="translate(265.14,302.40) scale(1,1.0)" text-anchor="middle" font-size="16" >0.6</text><text transform="translate(352.46,302.40) scale(1,1.0)" text-anchor="middle" font-size="16" >0.8</text><text transform="translate(439.78,302.40) scale(1,1.0)" text-anchor="middle" font-size="16" >1</text><text transform="translate(285.50,111.20) scale(1,1.0)" text-anchor="end" font-size="16" >0</text><text transform="translate(285.50,89.64) scale(1,1.0)" text-anchor="end" font-size="16" >0.2</text><text transform="translate(285.50,68.08) scale(1,1.0)" text-anchor="end" font-size="16" >0.4</text><text transform="translate(285.50,46.52) scale(1,1.0)" text-anchor="end" font-size="16" >0.6</text><text transform="translate(325.90,127.50) scale(1,1.0)" text-anchor="middle" font-size="16" >0.6</text><text transform="translate(382.90,127.50) scale(1,1.0)" text-anchor="middle" font-size="16" >0.7</text><text transform="translate(126.60,225.80) scale(1,1.0)" text-anchor="end" font-size="16" >64</text><text transform="translate(126.60,241.90) scale(1,1.0)" text-anchor="end" font-size="16" >128</text><text transform="translate(126.60,258.00) scale(1,1.0)" text-anchor="end" font-size="16" >256</text><text transform="translate(126.60,274.10) scale(1,1.0)" text-anchor="end" font-size="16" >512</text></svg>
<svg width="463" height="325" viewBox="0 0 463 325" style="position:absolute;left:0;top:0;will-change:transform" font-family="Liberation Serif, serif" fill="#3c3c3c"><text transform="translate(172.40,189.60) scale(1.27,1)" font-size="21.5" font-style="italic">m</text><text x="191.8" y="192.9" font-size="15">1</text><text transform="translate(281.30,214.60) scale(1.27,1)" font-size="21.5" font-style="italic">m</text><text x="200.3" y="218.2" font-size="15" transform="translate(100 0)">3</text><text transform="translate(245.00,327.40) scale(1.2,1)" font-size="26.5" font-style="italic">T</text><text transform="translate(353.40,150.80) scale(1.15,1)" font-size="24" font-style="italic">T</text><text transform="translate(34.00,170.60) rotate(-90) scale(1.29,1)" font-size="26" font-style="italic">m</text><g fill="none" stroke="#3c3c3c" stroke-linecap="round"><path d="M242.4 63.4V68.6" stroke-width="1.1"/><path d="M242.3 66.0H232.0" stroke-width="1.5"/><path d="M233.5 66.0C230.5 65.2 227.4 63.6 227.4 61.3C227.4 59.8 228.8 59.0 230.7 59.0" stroke-width="1.25"/><path d="M233.5 66.0C230.5 66.8 227.4 68.4 227.4 70.7C227.4 72.2 228.8 73.0 230.7 73.0" stroke-width="1.25"/></g></svg>
</div></body></html>
